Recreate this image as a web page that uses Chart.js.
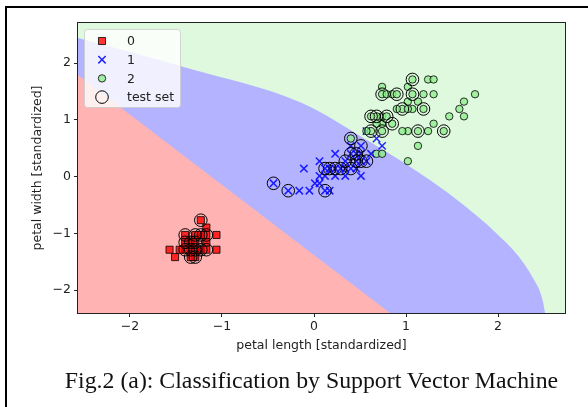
<!DOCTYPE html>
<html>
<head>
<meta charset="utf-8">
<script src="https://cdn.jsdelivr.net/npm/chart.js@4.4.1/dist/chart.umd.min.js"></script>
<style>
  html, body { margin: 0; padding: 0; background: #fff; }
  #wrap { position: relative; width: 588px; height: 407px; overflow: hidden; }
  #frame { position: absolute; left: 5px; top: 6px; width: 700px; height: 500px;
           border-left: 2px solid #000; border-top: 2px solid #000; }
  #caption { position: absolute; left: 0; width: 623px; top: 366px; text-align: center;
             font-family: "Liberation Serif", serif; font-size: 23.8px; line-height: 28px;
             color: #111; white-space: nowrap; }
  canvas { position: absolute; left: 0; top: 0; }
</style>
</head>
<body>
<div id="wrap">
  <div id="frame"></div>
  <canvas id="chart" width="588" height="407"></canvas>
  <div id="caption">Fig.2 (a): Classification by Support Vector Machine</div>
</div>
<script>
const xTicks = [-2, -1, 0, 1, 2];
const xTickLabels = ['\u22122', '\u22121', '0', '1', '2'];
const yTicks = [-2, -1, 0, 1, 2];
const yTickLabels = ['\u22122', '\u22121', '0', '1', '2'];
const xRange = [-2.565, 2.728];
const yRange = [-2.405, 2.705];

const seriesNames = ['0', '1', '2', 'test set'];

// standardized petal length / width per class
const class0 = [
  [-1.34,-1.29],[-1.40,-1.29],[-1.29,-1.29],[-1.17,-1.03],[-1.34,-1.16],[-1.29,-1.42],
  [-1.23,-1.29],[-1.34,-1.42],[-1.51,-1.42],[-1.46,-1.29],[-1.29,-1.03],[-1.40,-1.03],
  [-1.17,-1.16],[-1.29,-1.16],[-1.17,-1.29],[-1.57,-1.29],[-1.17,-0.90],[-1.06,-1.29],
  [-1.23,-1.03],[-1.40,-1.16],[-1.23,-0.77],[-1.06,-1.03]
];
const class1 = [
  [0.51,0.27],[0.40,0.40],[0.62,0.40],[0.12,0.14],[0.46,0.40],[0.40,0.14],
  [0.51,0.54],[-0.28,-0.25],[0.46,0.14],[0.06,0.27],[-0.16,-0.25],[0.23,0.40],
  [0.12,-0.25],[-0.11,0.14],[0.34,0.27],[0.17,-0.25],[0.06,-0.12],[0.57,0.80],
  [0.51,0.01],[0.29,0.14],[0.57,0.27],[0.68,0.67],[0.01,-0.12],[-0.05,-0.25],
  [0.06,0.01],[0.74,0.54],[0.40,0.54],[0.51,0.40],[0.34,0.14],[0.17,0.14],
  [0.34,0.01],[0.46,0.27],[0.12,0.01],[0.23,0.14],[0.23,0.01],[-0.44,-0.12]
];
const class2 = [
  [1.24,1.71],[0.74,0.93],[1.19,1.19],[1.02,0.80],[1.13,1.32],[1.58,1.19],
  [0.40,0.67],[1.41,0.80],[1.13,0.80],[1.30,1.71],[0.74,1.06],[0.85,0.93],
  [0.96,1.19],[0.68,1.06],[0.74,1.58],[0.85,1.45],[0.96,0.80],[1.63,1.32],
  [1.75,1.45],[0.68,0.40],[1.07,1.45],[0.62,1.06],[1.63,1.06],[0.62,0.80],
  [1.07,1.19],[1.24,0.80],[0.57,0.80],[1.02,1.19],[1.13,0.54],[1.30,0.93],
  [1.47,1.06],[1.02,1.32],[0.74,0.40],[1.02,0.27],[1.30,1.45],[1.02,1.58],
  [0.90,1.19],[0.74,1.45],[1.19,1.45],[1.07,1.71],[0.79,1.45],[0.68,0.93],
  [0.79,1.06],[0.90,1.45],[0.74,0.80]
];
const testSet = [
  [-1.23,-0.77],[-1.40,-1.03],[-1.29,-1.03],[-1.17,-1.03],[-1.34,-1.16],[-1.29,-1.16],
  [-1.40,-1.29],[-1.34,-1.29],[-1.29,-1.29],[-1.23,-1.29],[-1.34,-1.42],[-1.29,-1.42],
  [-1.40,-1.16],[-1.23,-1.03],[-1.17,-1.29],
  [-0.44,-0.12],[-0.28,-0.25],[0.12,-0.25],[0.12,0.14],[0.17,0.14],[0.23,0.14],
  [0.29,0.14],[0.40,0.40],[0.46,0.27],[0.51,0.54],[0.57,0.27],[0.40,0.14],
  [0.51,0.27],[0.34,0.27],[0.46,0.40],
  [1.07,1.71],[0.74,1.45],[0.90,1.45],[1.07,1.45],[0.96,1.19],[1.19,1.19],
  [0.62,1.06],[0.68,1.06],[0.79,1.06],[0.85,0.93],[0.62,0.80],[0.74,0.80],
  [1.13,0.80],[1.41,0.80],[0.40,0.67]
];

// decision region edges
const greenTop = [[-2.565, 2.705], [2.728, 2.705]];
const blueGreenEdge = [
  [-2.565, 2.44], [-1.35, 1.90], [-0.15, 1.31], [0.61, 0.61], [1.26, -0.06],
  [1.64, -0.52], [1.97, -0.98], [2.22, -1.40], [2.38, -1.79], [2.478, -2.14],
  [2.511, -2.405], [2.533, -2.70]
];
const redBlueEdge = [[-2.565, 1.79], [0.826, -2.405]];

const regionColors = ['#ffb3b3', '#b3b3ff', '#def9de'];

const pts = a => a.map(([x, y]) => ({ x, y }));
const tickFont = { family: 'DejaVu Sans', size: 12.5 };
const textColor = '#222';

function region(data, color, order, smooth) {
  return {
    type: 'line', data: pts(data), fill: { value: -3 },
    backgroundColor: color, borderColor: 'transparent', borderWidth: 0,
    pointRadius: 0, order: order, clip: 0,
    cubicInterpolationMode: smooth ? 'monotone' : 'default'
  };
}

const legendBox = {
  id: 'legendBox',
  afterDatasetsDraw(chart) {
    const ctx = chart.ctx, a = chart.chartArea;
    ctx.save();
    // all four spines
    ctx.strokeStyle = '#222';
    ctx.lineWidth = 1;
    ctx.strokeRect(Math.round(a.left) - 0.5, Math.round(a.top) - 0.5,
                   Math.round(a.right - a.left) + 1, Math.round(a.bottom - a.top) + 1);
    // legend
    const x0 = a.left + 6, y0 = a.top + 6, w = 96, h = 78;
    ctx.fillStyle = 'rgba(255,255,255,0.8)';
    ctx.strokeStyle = 'rgba(204,204,204,0.8)';
    ctx.beginPath();
    ctx.roundRect(x0 + 0.5, y0 + 0.5, w, h, 3);
    ctx.fill();
    ctx.stroke();
    const marks = chart.data.datasets.filter(d => d.label);
    marks.forEach((d, i) => {
      const cx = x0 + 18, cy = y0 + 12 + i * 18.7;
      ctx.fillStyle = d.pointBackgroundColor;
      ctx.strokeStyle = d.pointBorderColor;
      ctx.lineWidth = d.pointBorderWidth;
      Chart.helpers.drawPoint(ctx, { pointStyle: d.pointStyle, radius: d.pointRadius,
        borderWidth: d.pointBorderWidth, rotation: 0 }, cx, cy);
      ctx.fillStyle = textColor;
      ctx.font = '12.5px "DejaVu Sans"';
      ctx.textBaseline = 'middle';
      ctx.fillText(d.label, x0 + 43, cy + 1);
    });
    ctx.restore();
  }
};

new Chart(document.getElementById('chart'), {
  type: 'scatter',
  data: {
    datasets: [
      region(greenTop, regionColors[2], 10, false),
      region(blueGreenEdge, regionColors[1], 9, true),
      region(redBlueEdge, regionColors[0], 8, false),
      {
        label: seriesNames[0], data: pts(class0), order: 4,
        pointStyle: 'rect', pointRadius: 5,
        pointBackgroundColor: 'rgba(255,0,0,0.8)', pointBorderColor: 'rgba(0,0,0,0.8)', pointBorderWidth: 1
      },
      {
        label: seriesNames[1], data: pts(class1), order: 3,
        pointStyle: 'crossRot', pointRadius: 5.2,
        pointBackgroundColor: 'rgba(0,0,255,0.8)', pointBorderColor: 'rgba(0,0,255,0.85)', pointBorderWidth: 1.5
      },
      {
        label: seriesNames[2], data: pts(class2), order: 2,
        pointStyle: 'circle', pointRadius: 3.7,
        pointBackgroundColor: 'rgba(144,238,144,0.8)', pointBorderColor: 'rgba(0,0,0,0.8)', pointBorderWidth: 1
      },
      {
        label: seriesNames[3], data: pts(testSet), order: 1,
        pointStyle: 'circle', pointRadius: 6.3,
        pointBackgroundColor: 'rgba(0,0,0,0)', pointBorderColor: '#000', pointBorderWidth: 1
      }
    ]
  },
  options: {
    responsive: false,
    animation: false,
    events: [],
    layout: { padding: { left: 0, right: 23, top: 23, bottom: 54 } },
    plugins: { legend: { display: false }, tooltip: { enabled: false } },
    scales: {
      x: {
        type: 'linear', min: xRange[0], max: xRange[1],
        afterFit: s => { s.height = 40; },
        afterBuildTicks: s => { s.ticks = xTicks.map(v => ({ value: v })); },
        ticks: { font: tickFont, color: textColor, padding: 2, callback: (v, i) => xTickLabels[i] },
        grid: { display: true, drawOnChartArea: false, drawTicks: true, tickLength: 4, tickColor: '#222' },
        border: { display: false },
        title: { display: true, text: 'petal length [standardized]', font: tickFont, color: textColor,
                 padding: { top: 0, bottom: 0 } }
      },
      y: {
        type: 'linear', min: yRange[0], max: yRange[1],
        afterFit: s => { s.width = 78; },
        afterBuildTicks: s => { s.ticks = yTicks.map(v => ({ value: v })); },
        ticks: { font: tickFont, color: textColor, padding: 3, callback: (v, i) => yTickLabels[i] },
        grid: { display: true, drawOnChartArea: false, drawTicks: true, tickLength: 4, tickColor: '#222' },
        border: { display: false },
        title: { display: true, text: 'petal width [standardized]', font: tickFont, color: textColor,
                 padding: { top: 30.5, bottom: 0 } }
      }
    }
  },
  plugins: [legendBox]
});
</script>
</body>
</html>
